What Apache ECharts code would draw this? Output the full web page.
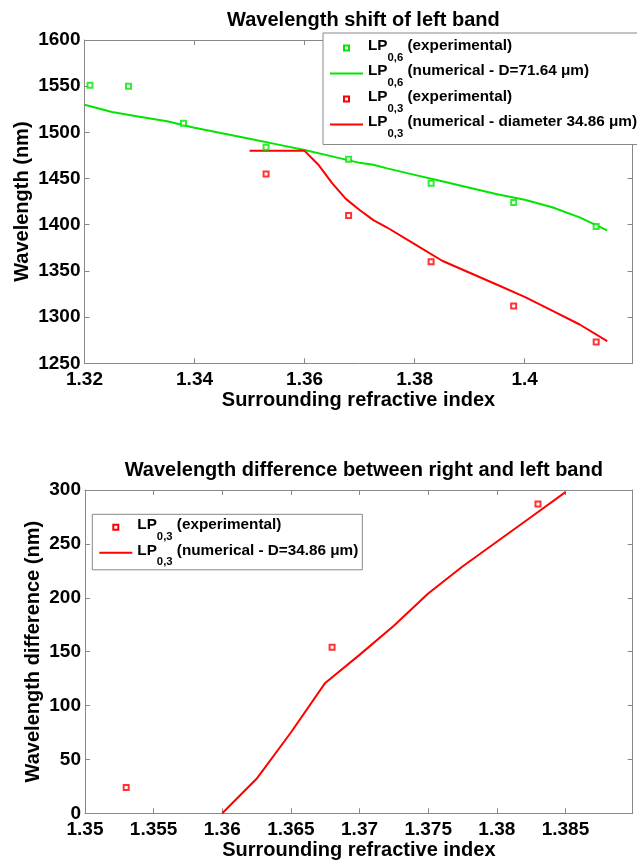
<!DOCTYPE html>
<html>
<head>
<meta charset="utf-8">
<script src="https://cdn.jsdelivr.net/npm/echarts@6/dist/echarts.min.js"></script>
<style>html,body{margin:0;padding:0;background:#fff}#c{width:637px;height:861px}</style>
</head>
<body>
<div id="c"></div>
<script>
// ---- Data (top chart: wavelength shift of left band) ----
const greenExpX = [1.321, 1.328, 1.338, 1.353, 1.368, 1.383, 1.398, 1.413];
const greenExpY = [1551, 1550, 1510, 1484, 1471, 1445, 1424, 1398];
const greenNumX = [1.32, 1.325, 1.33, 1.335, 1.34, 1.345, 1.35, 1.355, 1.36, 1.365, 1.37, 1.3725, 1.375, 1.38, 1.385, 1.39, 1.395, 1.4, 1.405, 1.41, 1.415];
const greenNumY = [1530, 1522, 1517, 1512, 1505, 1499, 1493, 1487, 1481, 1474, 1467, 1465, 1461, 1454, 1447, 1440, 1433, 1427, 1419, 1408, 1394];
const redExpX = [1.353, 1.368, 1.383, 1.398, 1.413];
const redExpY = [1455, 1410, 1360, 1312, 1273];
const redNumX = [1.35, 1.36, 1.3625, 1.365, 1.3675, 1.37, 1.3725, 1.375, 1.38, 1.385, 1.39, 1.395, 1.4, 1.405, 1.41, 1.415];
const redNumY = [1480, 1480, 1465, 1445, 1428, 1416, 1405, 1397, 1379, 1361, 1348, 1335, 1322, 1307, 1292, 1274];

// ---- Data (bottom chart: wavelength difference) ----
const diffExpX = [1.353, 1.368, 1.383];
const diffExpY = [24, 154, 287];
const diffNumX = [1.36, 1.3625, 1.365, 1.3675, 1.37, 1.3725, 1.375, 1.3775, 1.38, 1.3825, 1.385];
const diffNumY = [0, 32, 75, 121, 147, 174, 204, 229, 252, 275, 298];

// ---- Tick labels ----
const xTicksTop = [1.32, 1.34, 1.36, 1.38, 1.4];
const yTicksTop = [1250, 1300, 1350, 1400, 1450, 1500, 1550, 1600];
const xTicksBot = [1.35, 1.355, 1.36, 1.365, 1.37, 1.375, 1.38, 1.385];
const yTicksBot = [0, 50, 100, 150, 200, 250, 300];

const titleTop = 'Wavelength shift of left band';
const titleBot = 'Wavelength difference between right and left band';
const xName = 'Surrounding refractive index';
const yNameTop = 'Wavelength (nm)';
const yNameBot = 'Wavelength difference (nm)';

const legendLabels = {
  g_exp: ['0,6', ' (experimental)'],
  g_num: ['0,6', ' (numerical - D=71.64 \u03bcm)'],
  r_exp: ['0,3', ' (experimental)'],
  r_num: ['0,3', ' (numerical - diameter 34.86 \u03bcm)'],
  d_exp: ['0,3', ' (experimental)'],
  d_num: ['0,3', ' (numerical - D=34.86 \u03bcm)']
};

// ---- Styling ----
const GREEN = '#00e600', RED = '#ff0000', AX = '#888888';
const FONT = '"Liberation Sans", Arial, sans-serif';

function measure(font) {
  const c = document.createElement('canvas').getContext('2d');
  c.font = font;
  return c.measureText('(experimental) numerical diameter').width;
}
const narrowOK = measure('bold 40px "Liberation Sans Narrow"') < 0.9 * measure('bold 40px "Liberation Sans"');
const LF = narrowOK ? { fam: '"Liberation Sans Narrow"', main: 18.6, sub: 13.8 }
                    : { fam: FONT, main: 15.3, sub: 11.3 };

// legend icons (33 x 7 box): hollow square marker / short line sample
const ICON_SQ = 'path://M0,0M33,7M13,0h7v7h-7zM15,2v3h3v-3z';
const ICON_LN = 'path://M0,0M33,7M0,2.5h33v2h-33z';

const zip = (xs, ys) => xs.map((x, i) => [x, ys[i]]);
const pick = arr => v => { const t = arr.find(t => Math.abs(t - v) < 1e-9); return t === undefined ? '' : String(t); };

function xAxisPair(gi, min, max, interval, ticks) {
  const common = {
    type: 'value', gridIndex: gi, min, max, interval,
    splitLine: { show: false },
    axisLine: { show: true, onZero: false, lineStyle: { color: AX, width: 1 } },
    axisTick: { show: true, inside: true, length: 5, lineStyle: { color: AX } }
  };
  return [
    Object.assign({}, common, {
      position: 'bottom', name: xName, nameLocation: 'middle', nameGap: 27, nameMoveOverlap: false,
      nameTextStyle: { fontFamily: FONT, fontWeight: 'bold', fontSize: 20, color: '#000' },
      axisLabel: { show: true, margin: 7, formatter: pick(ticks), fontFamily: FONT, fontWeight: 'bold', fontSize: 19, color: '#000', showMaxLabel: false }
    }),
    Object.assign({}, common, { position: 'top', axisLabel: { show: false } })
  ];
}
function yAxisPair(gi, min, max, interval, ticks, name, gap) {
  const common = {
    type: 'value', gridIndex: gi, min, max, interval,
    splitLine: { show: false },
    axisLine: { show: true, onZero: false, lineStyle: { color: AX, width: 1 } },
    axisTick: { show: true, inside: true, length: 5, lineStyle: { color: AX } }
  };
  return [
    Object.assign({}, common, {
      position: 'left', name, nameLocation: 'middle', nameGap: gap, nameMoveOverlap: false,
      nameTextStyle: { fontFamily: FONT, fontWeight: 'bold', fontSize: 20, color: '#000' },
      axisLabel: { show: true, margin: 4, formatter: pick(ticks), fontFamily: FONT, fontWeight: 'bold', fontSize: 19, color: '#000' }
    }),
    Object.assign({}, common, { position: 'right', axisLabel: { show: false } })
  ];
}

function legendCfg(items, left, top, padding) {
  return {
    data: items.map(([name, kind, color]) => ({
      name, icon: kind === 'sq' ? ICON_SQ : ICON_LN,
      itemStyle: { color, borderWidth: 0, opacity: 1 }
    })),
    orient: 'vertical', left, top, padding,
    itemWidth: 33, itemHeight: 7, itemGap: 0.5, itemTextGap: 4, symbolKeepAspect: true,
    backgroundColor: '#fff', borderColor: AX, borderWidth: 1,
    selectedMode: false,
    formatter: n => '{a|LP}{s|' + legendLabels[n][0] + '}{a|' + legendLabels[n][1] + '}',
    textStyle: {
      color: '#000', fontFamily: LF.fam, fontWeight: 'bold', fontSize: LF.main,
      rich: {
        a: { fontFamily: LF.fam, fontWeight: 'bold', fontSize: LF.main, lineHeight: 20, verticalAlign: 'top', color: '#000' },
        s: { fontFamily: LF.fam, fontWeight: 'bold', fontSize: LF.sub, lineHeight: 12, padding: [14, 0, 0, 0], verticalAlign: 'top', color: '#000' }
      }
    }
  };
}

const scat = (name, data, color, xi, yi) => ({
  name, type: 'scatter', data, xAxisIndex: xi, yAxisIndex: yi,
  symbol: 'emptyRect', symbolSize: 5, itemStyle: { color }, z: 3
});
const line = (name, data, color, xi, yi) => ({
  name, type: 'line', data, xAxisIndex: xi, yAxisIndex: yi,
  symbol: 'none', showSymbol: false, lineStyle: { color, width: 2 }, itemStyle: { color }, z: 2
});

const [xb0, xt0] = xAxisPair(0, 1.32, 1.4196, 0.02, xTicksTop);
const [xb1, xt1] = xAxisPair(1, 1.35, 1.3899, 0.005, xTicksBot);
const [yl0, yr0] = yAxisPair(0, 1250, 1600, 50, yTicksTop, yNameTop, 52);
const [yl1, yr1] = yAxisPair(1, 0, 300, 50, yTicksBot, yNameBot, 42);

const option = {
  animation: false,
  backgroundColor: '#fff',
  title: [
    { text: titleTop, left: 358.4, top: 5, textAlign: 'center',
      textStyle: { fontFamily: FONT, fontWeight: 'bold', fontSize: 20, color: '#000' } },
    { text: titleBot, left: 358.8, top: 455, textAlign: 'center',
      textStyle: { fontFamily: FONT, fontWeight: 'bold', fontSize: 20, color: '#000' } }
  ],
  grid: [
    { left: 84.5, top: 40, width: 548, height: 323.3, containLabel: false, outerBoundsMode: 'none' },
    { left: 85, top: 490, width: 547.7, height: 323.3, containLabel: false, outerBoundsMode: 'none' }
  ],
  xAxis: [xb0, xt0, xb1, xt1],
  yAxis: [yl0, yr0, yl1, yr1],
  legend: [
    legendCfg([['g_exp', 'sq', GREEN], ['g_num', 'ln', GREEN], ['r_exp', 'sq', RED], ['r_num', 'ln', RED]], 323, 33, [5, 20, 5, 7]),
    legendCfg([['d_exp', 'sq', RED], ['d_num', 'ln', RED]], 92.3, 514.3, [3, 4, 2, 7])
  ],
  series: [
    line('g_num', zip(greenNumX, greenNumY), GREEN, 0, 0),
    line('r_num', zip(redNumX, redNumY), RED, 0, 0),
    scat('g_exp', zip(greenExpX, greenExpY), GREEN, 0, 0),
    scat('r_exp', zip(redExpX, redExpY), RED, 0, 0),
    line('d_num', zip(diffNumX, diffNumY), RED, 2, 2),
    scat('d_exp', zip(diffExpX, diffExpY), RED, 2, 2)
  ]
};

const chart = echarts.init(document.getElementById('c'), null, { renderer: 'canvas' });
chart.setOption(option);
</script>
</body>
</html>
